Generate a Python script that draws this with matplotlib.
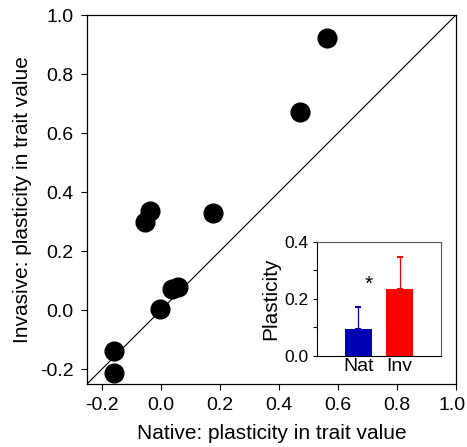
import matplotlib
matplotlib.use("Agg")
import matplotlib.pyplot as plt
from matplotlib.ticker import MultipleLocator
from matplotlib.transforms import ScaledTranslation

plt.rcParams['font.family'] = ['Liberation Sans', 'DejaVu Sans']

# Scatter data
native = [0.562, 0.470, 0.178, -0.035, -0.055, 0.037, 0.058, -0.004, -0.158, -0.158]
invasive = [0.921, 0.673, 0.331, 0.336, 0.300, 0.072, 0.077, 0.003, -0.138, -0.212]

# Inset bar data
groups = ["Nat", "Inv"]
plasticity = [0.094, 0.235]
plasticity_err = [0.077, 0.111]
bar_colors = ["#0000B4", "#FF0000"]

fig = plt.figure(figsize=(4.67, 4.47), dpi=100)
ax = fig.add_axes([0.1863, 0.1409, 0.790, 0.8255])
ax.plot([-0.25, 1.0], [-0.25, 1.0], color="black", lw=0.8, zorder=1)
ax.plot(native, invasive, 'o', color="black", markersize=13.5, zorder=3, clip_on=False)
ax.set_xlim(-0.25, 1.0)
ax.set_ylim(-0.25, 1.0)
ticks = [-0.2, 0.0, 0.2, 0.4, 0.6, 0.8, 1.0]
ax.set_xticks(ticks)
ax.set_yticks(ticks)
ax.set_xticklabels([f"{t:.1f}" for t in ticks])
ax.set_yticklabels([f"{t:.1f}" for t in ticks])
ax.tick_params(direction="out", length=4.5, width=0.8, labelsize=14, top=False, right=False, pad=5)
for s in ax.spines.values():
    s.set_linewidth(0.9)
ax.set_xlabel("Native: plasticity in trait value", fontsize=15, labelpad=7)
ax.set_ylabel("Invasive: plasticity in trait value", fontsize=15, labelpad=6)
# keep the last x tick label inside the figure
last = ax.get_xticklabels()[-1]
last.set_transform(last.get_transform() + ScaledTranslation(-4 / 100, 0, fig.dpi_scale_trans))

ins = fig.add_axes([0.6795, 0.2043, 0.2642, 0.2550])
x = [1, 2]
ins.bar(x, plasticity, width=0.65, color=bar_colors, zorder=2)
for xi, v, e, c in zip(x, plasticity, plasticity_err, bar_colors):
    ins.errorbar([xi], [v], yerr=[[0], [e]], fmt='none', ecolor=c, elinewidth=0.9, capsize=2.5, capthick=1.5, zorder=1)
ins.text(1.26, 0.250, "*", fontsize=15, ha="center", va="center")
ins.set_xlim(0, 3)
ins.set_ylim(0, 0.4)
ins.set_xticks(x)
ins.set_xticklabels(groups)
ins.set_yticks([0.0, 0.2, 0.4])
ins.set_yticklabels(["0.0", "0.2", "0.4"])
ins.yaxis.set_minor_locator(MultipleLocator(0.1))
ins.tick_params(axis="y", which="both", direction="out", length=3, width=0.8, labelsize=12.5, pad=3)
ins.tick_params(axis="x", length=0, labelsize=14, pad=2)
ins.spines["top"].set_color("#555555")
ins.spines["right"].set_color("#555555")
ins.set_ylabel("Plasticity", fontsize=15, labelpad=3)

fig.savefig("out.png", dpi=100)
